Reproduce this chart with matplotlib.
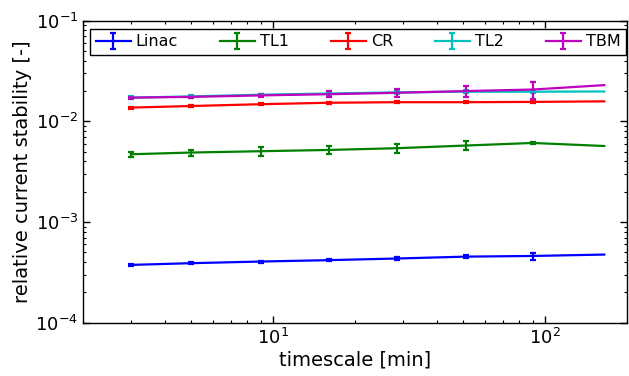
import numpy as np
import matplotlib
matplotlib.use("Agg")
import matplotlib.pyplot as plt
from matplotlib.ticker import LogLocator

plt.rcParams["axes.unicode_minus"] = False
plt.rcParams["font.family"] = "DejaVu Sans"

# ---------------------------------------------------------------- data
timescale = [3, 5, 9, 16, 28.5, 51, 90, 165]   # min

linac = [3.75e-4, 3.90e-4, 4.05e-4, 4.18e-4, 4.34e-4, 4.53e-4, 4.60e-4, 4.75e-4]
linac_err = [0.06e-4, 0.09e-4, 0.09e-4, 0.10e-4, 0.13e-4, 0.14e-4, 0.36e-4, 0.0]

tl1 = [4.71e-3, 4.90e-3, 5.05e-3, 5.20e-3, 5.41e-3, 5.75e-3, 6.10e-3, 5.69e-3]
tl1_err = [0.30e-3, 0.34e-3, 0.48e-3, 0.49e-3, 0.58e-3, 0.57e-3, 0.14e-3, 0.0]

cr = [1.37e-2, 1.42e-2, 1.48e-2, 1.53e-2, 1.55e-2, 1.55e-2, 1.56e-2, 1.58e-2]
cr_err = [0.03e-2, 0.03e-2, 0.035e-2, 0.035e-2, 0.035e-2, 0.035e-2, 0.035e-2, 0.0]

tl2 = [1.72e-2, 1.77e-2, 1.84e-2, 1.89e-2, 1.94e-2, 1.97e-2, 1.97e-2, 1.98e-2]
tl2_err = [0.05e-2, 0.05e-2, 0.05e-2, 0.06e-2, 0.06e-2, 0.06e-2, 0.06e-2, 0.0]

tbm = [1.72e-2, 1.75e-2, 1.81e-2, 1.86e-2, 1.92e-2, 2.00e-2, 2.07e-2, 2.29e-2]
tbm_err = [0.04e-2, 0.04e-2, 0.063e-2, 0.12e-2, 0.19e-2, 0.27e-2, 0.39e-2, 0.0]

SERIES = [
    ("Linac", linac, linac_err, (0, 0, 1)),
    ("TL1", tl1, tl1_err, (0, 0.5, 0)),
    ("CR", cr, cr_err, (1, 0, 0)),
    ("TL2", tl2, tl2_err, (0, 0.75, 0.75)),
    ("TBM", tbm, tbm_err, (0.75, 0, 0.75)),
]

# ---------------------------------------------------------------- plot
fig = plt.figure(figsize=(6.29, 3.76), dpi=100)
ax = fig.add_axes([0.132, 0.1418, 0.8648, 0.8032])

show_err = [True] * 7 + [False]   # no error bar on the longest timescale
for name, y, e, col in SERIES:
    ax.errorbar(timescale, y, yerr=e, color=col, lw=1.6, elinewidth=1.6,
                capsize=2.5, capthick=1.6, errorevery=show_err, label=name)

ax.set_xscale("log")
ax.set_yscale("log")
ax.set_xlim(2, 200)
ax.set_ylim(1e-4, 1e-1)
ax.xaxis.set_major_locator(LogLocator(base=10))
ax.yaxis.set_major_locator(LogLocator(base=10))

ax.tick_params(which="both", direction="in", top=True, right=True, labelsize=13)
ax.tick_params(which="major", length=5, width=1)
ax.tick_params(which="minor", length=2.5, width=0.8)
for s in ax.spines.values():
    s.set_linewidth(1.0)

ax.set_xlabel("timescale [min]", fontsize=14, labelpad=2)
ax.set_ylabel("relative current stability [-]", fontsize=14, labelpad=2)

ax.legend(ncol=5, loc="upper left", bbox_to_anchor=(0.013, 0.974, 0.985, 0.0),
          mode="expand", fontsize=11.5, fancybox=False, edgecolor="black",
          framealpha=1, handlelength=2.2, handletextpad=0.3, borderpad=0.35,
          borderaxespad=0.0, columnspacing=2.5)

fig.savefig("out.png", dpi=100)
